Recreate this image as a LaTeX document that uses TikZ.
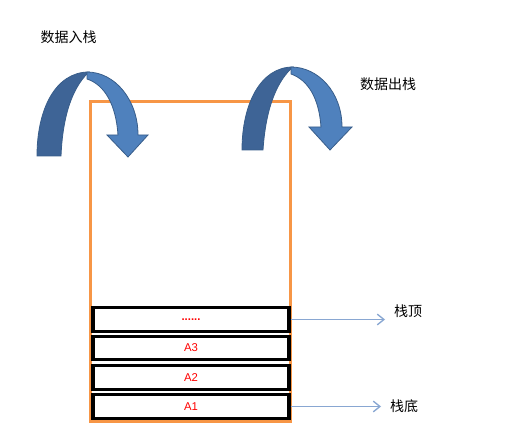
\documentclass[tikz,border=0pt]{standalone}
\usepackage{fontspec}
\setmainfont{Liberation Sans}
\newfontfamily\cjk{Noto Sans CJK SC}
\usetikzlibrary{arrows.meta}
\definecolor{orangeline}{HTML}{F79646}
\definecolor{darkblue}{RGB}{62,100,150}
\definecolor{lightblue}{RGB}{79,129,189}
\definecolor{blueedge}{HTML}{385D8A}
\definecolor{ptrblue}{RGB}{137,167,210}
\tikzset{
  stackbox/.style={draw=black, line width=2.3pt, minimum width=147pt, minimum height=17.5pt, inner sep=0pt, font=\fontsize{8.5}{10}\selectfont, text=red},
  ptr/.style={draw=ptrblue, line width=1pt, -{Straight Barb[length=5pt,width=8pt,line width=1pt]}},
  lbl/.style={font=\cjk\fontsize{10.5}{12}\selectfont, inner sep=0pt},
  darkpart/.style={fill=darkblue, draw=blueedge, line width=0.6pt},
  lightpart/.style={fill=lightblue, draw=blueedge, line width=0.6pt, line join=miter}
}
\begin{document}
\begin{tikzpicture}[x=0.75pt,y=-0.75pt]
\useasboundingbox (0,0) rectangle (513,448);
% container
\draw[orangeline, line width=2.3pt] (90.5,101.5) rectangle (290.5,421.5);
% stack boxes
\node[stackbox] (b4) at (191,319.5) {\textbf{......}};
\node[stackbox] (b3) at (191,348) {A3};
\node[stackbox] (b2) at (191,377.5) {A2};
\node[stackbox] (b1) at (191,406.5) {A1};
% labels
\node[lbl] (push) at (68.5,37) {数据入栈};
\node[lbl] (pop) at (388,84) {数据出栈};
\node[lbl] (topl) at (408,311) {栈顶};
\node[lbl] (botl) at (404,406) {栈底};
% pointer arrows
\coordinate (topend) at (385,319.5);
\coordinate (botend) at (381,406.5);
\draw[ptr] (b4.east) -- (topend);
\draw[ptr] (b1.east) -- (botend);
% left curved arrow (push)
\path[darkpart] (37,156) .. controls (37,110) and (55,72) .. (89,72)
  .. controls (76,84) and (63,108) .. (61,156) -- cycle;
\path[lightpart] (87,72) .. controls (115,72) and (138,100) .. (138,135)
  -- (148,135) -- (128,157) -- (107,135) -- (118,135)
  .. controls (116,105) and (105,85) .. (87,79) -- cycle;
% right curved arrow (pop)
\path[darkpart] (242,150) .. controls (242,105) and (260,67) .. (293,67)
  .. controls (279,79) and (266,104) .. (263,150) -- cycle;
\path[lightpart] (291,67) .. controls (318,67) and (342,92) .. (342,127)
  -- (352,127) -- (330,150) -- (309,127) -- (321,127)
  .. controls (319,98) and (308,80) .. (291,74) -- cycle;
\end{tikzpicture}
\end{document}
